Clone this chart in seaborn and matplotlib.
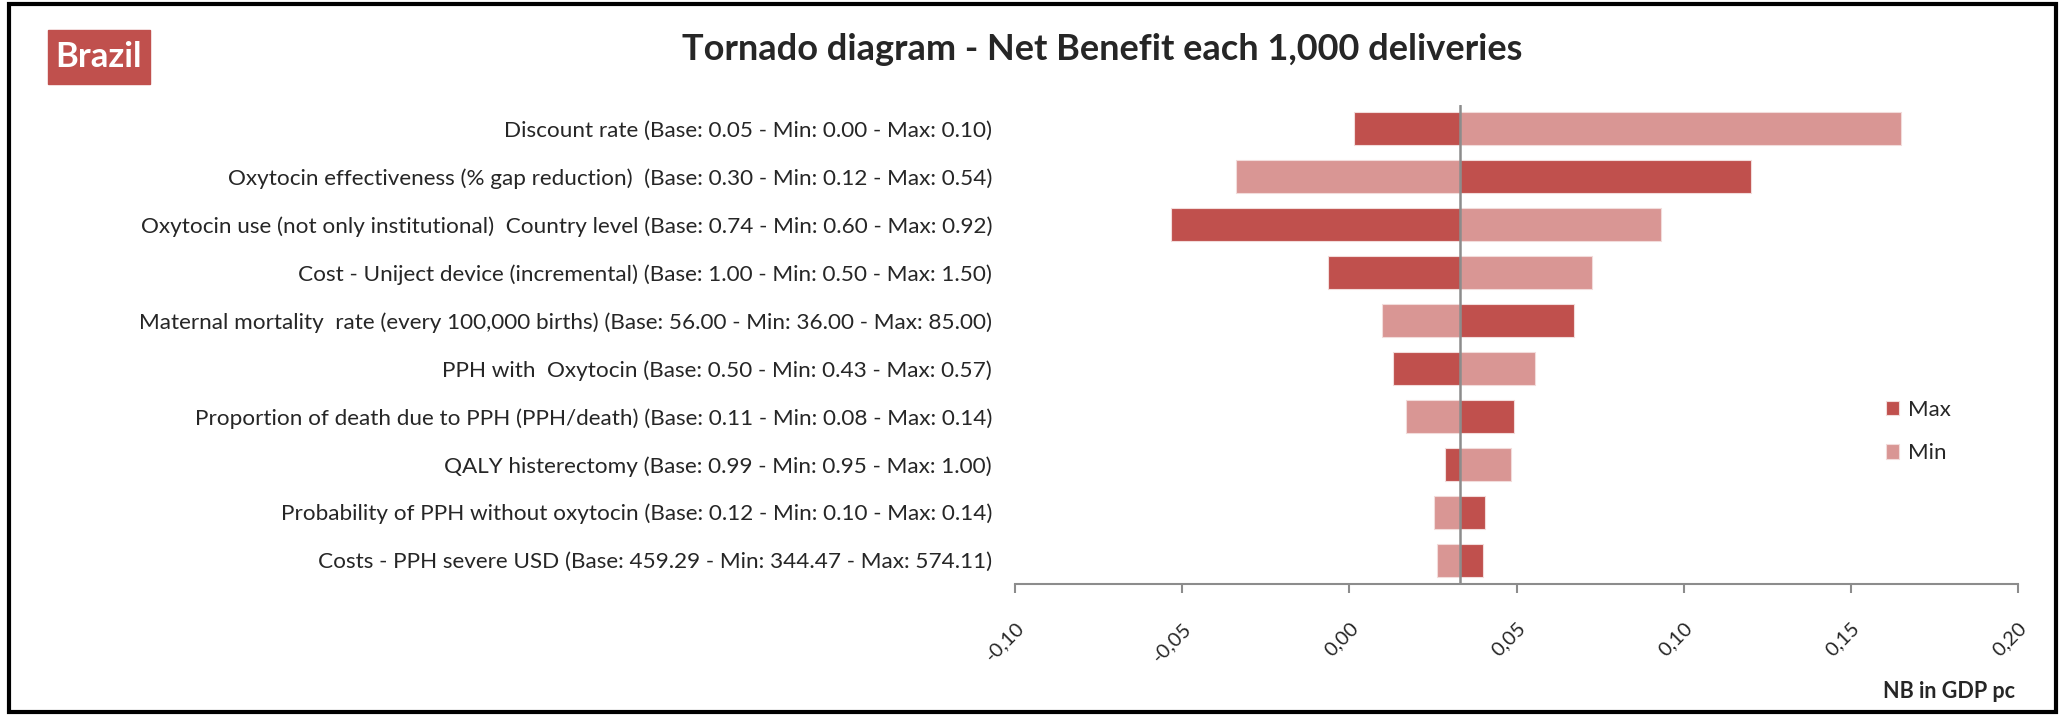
import matplotlib
matplotlib.use("Agg")
import matplotlib.pyplot as plt
from matplotlib.patches import Rectangle
import seaborn as sns
import pandas as pd

# Sensitivity parameters, top to bottom
parameters = [
    "Discount rate (Base: 0.05 - Min: 0.00 - Max: 0.10)",
    "Oxytocin effectiveness (% gap reduction)  (Base: 0.30 - Min: 0.12 - Max: 0.54)",
    "Oxytocin use (not only institutional)  Country level (Base: 0.74 - Min: 0.60 - Max: 0.92)",
    "Cost - Uniject device (incremental) (Base: 1.00 - Min: 0.50 - Max: 1.50)",
    "Maternal mortality  rate (every 100,000 births) (Base: 56.00 - Min: 36.00 - Max: 85.00)",
    "PPH with  Oxytocin (Base: 0.50 - Min: 0.43 - Max: 0.57)",
    "Proportion of death due to PPH (PPH/death) (Base: 0.11 - Min: 0.08 - Max: 0.14)",
    "QALY histerectomy (Base: 0.99 - Min: 0.95 - Max: 1.00)",
    "Probability of PPH without oxytocin (Base: 0.12 - Min: 0.10 - Max: 0.14)",
    "Costs - PPH severe USD (Base: 459.29 - Min: 344.47 - Max: 574.11)",
]

# Net benefit (GDP pc) with each parameter at its min / max value
nb_min = [0.1651, -0.0339, 0.0931, 0.0726, 0.0097, 0.0555, 0.0169, 0.0483, 0.0252, 0.0262]
nb_max = [0.0014, 0.1202, -0.0534, -0.0063, 0.0671, 0.0130, 0.0493, 0.0285, 0.0406, 0.0400]
base_nb = 0.0331

tick_values = [-0.10, -0.05, 0.00, 0.05, 0.10, 0.15, 0.20]
tick_labels = ["-0,10", "-0,05", "0,00", "0,05", "0,10", "0,15", "0,20"]

series_names = ["Max", "Min"]
series_colors = {"Max": "#C0504D", "Min": "#D99694"}

sns.set_theme(style="white")
plt.rcParams["font.family"] = ["Lato", "DejaVu Sans"]

# Bars are drawn as deviations from the base-case net benefit
rows = []
for p, lo, hi in zip(parameters, nb_min, nb_max):
    rows.append({"parameter": p, "scenario": "Max", "delta": hi - base_nb})
    rows.append({"parameter": p, "scenario": "Min", "delta": lo - base_nb})
df = pd.DataFrame(rows)

W, H = 2065, 716
fig = plt.figure(figsize=(W / 100, H / 100), dpi=100)
ax = fig.add_axes([1015 / W, 1 - 584 / H, (2018 - 1015) / W, (584 - 105) / H])

sns.barplot(
    data=df, y="parameter", x="delta", hue="scenario",
    order=parameters, hue_order=series_names, palette=series_colors,
    dodge=False, width=0.69, orient="h", errorbar=None, saturation=1,
    edgecolor="#F2DCDB", linewidth=0.8, ax=ax,
)

ax.set_xlim(tick_values[0] - base_nb, tick_values[-1] - base_nb)
ax.set_ylim(len(parameters) - 0.5, -0.5)
ax.set_xticks([t - base_nb for t in tick_values])
ax.set_xticklabels(tick_labels, rotation=45, ha="right", rotation_mode="anchor")
ax.set_xlabel("")
ax.set_ylabel("")

ax.axvline(0, color="#8C8C8C", lw=1.8, zorder=3)

for side in ["left", "top", "right"]:
    ax.spines[side].set_visible(False)
ax.spines["bottom"].set_color("#8C8C8C")
ax.spines["bottom"].set_linewidth(1.5)
ax.tick_params(axis="x", direction="out", length=6.5, width=1.5, color="#8C8C8C",
               labelsize=14.5, pad=19, bottom=True)
ax.tick_params(axis="y", length=0, labelsize=16.2, pad=16.5)

handles, labels = ax.get_legend_handles_labels()
ax.legend(handles, labels, loc="upper left",
          bbox_to_anchor=(1866 / W, 1 - 380 / H), bbox_transform=fig.transFigure,
          frameon=False, fontsize=16, handlelength=0.6, handleheight=0.6,
          labelspacing=1.05, handletextpad=0.4)

# Country badge
fig.patches.append(Rectangle((48 / W, 1 - 84 / H), 102 / W, 54 / H,
                             transform=fig.transFigure, color="#C0504D"))
fig.text(99 / W, 1 - 57 / H, "Brazil", color="white", fontweight="bold",
         fontsize=25, ha="center", va="center")

fig.text(1102 / W, 1 - 50 / H, "Tornado diagram - Net Benefit each 1,000 deliveries",
         fontsize=26, fontweight="bold", ha="center", va="center")

fig.text(2015 / W, 1 - 691 / H, "NB in GDP pc", fontsize=15.5, fontweight="bold",
         ha="right", va="center")

# Outer frame
fig.patches.append(Rectangle((9 / W, 4 / H), (2056 - 9) / W, (712 - 4) / H,
                             transform=fig.transFigure, fill=False,
                             edgecolor="black", lw=3))

fig.savefig("out.png", dpi=100)
